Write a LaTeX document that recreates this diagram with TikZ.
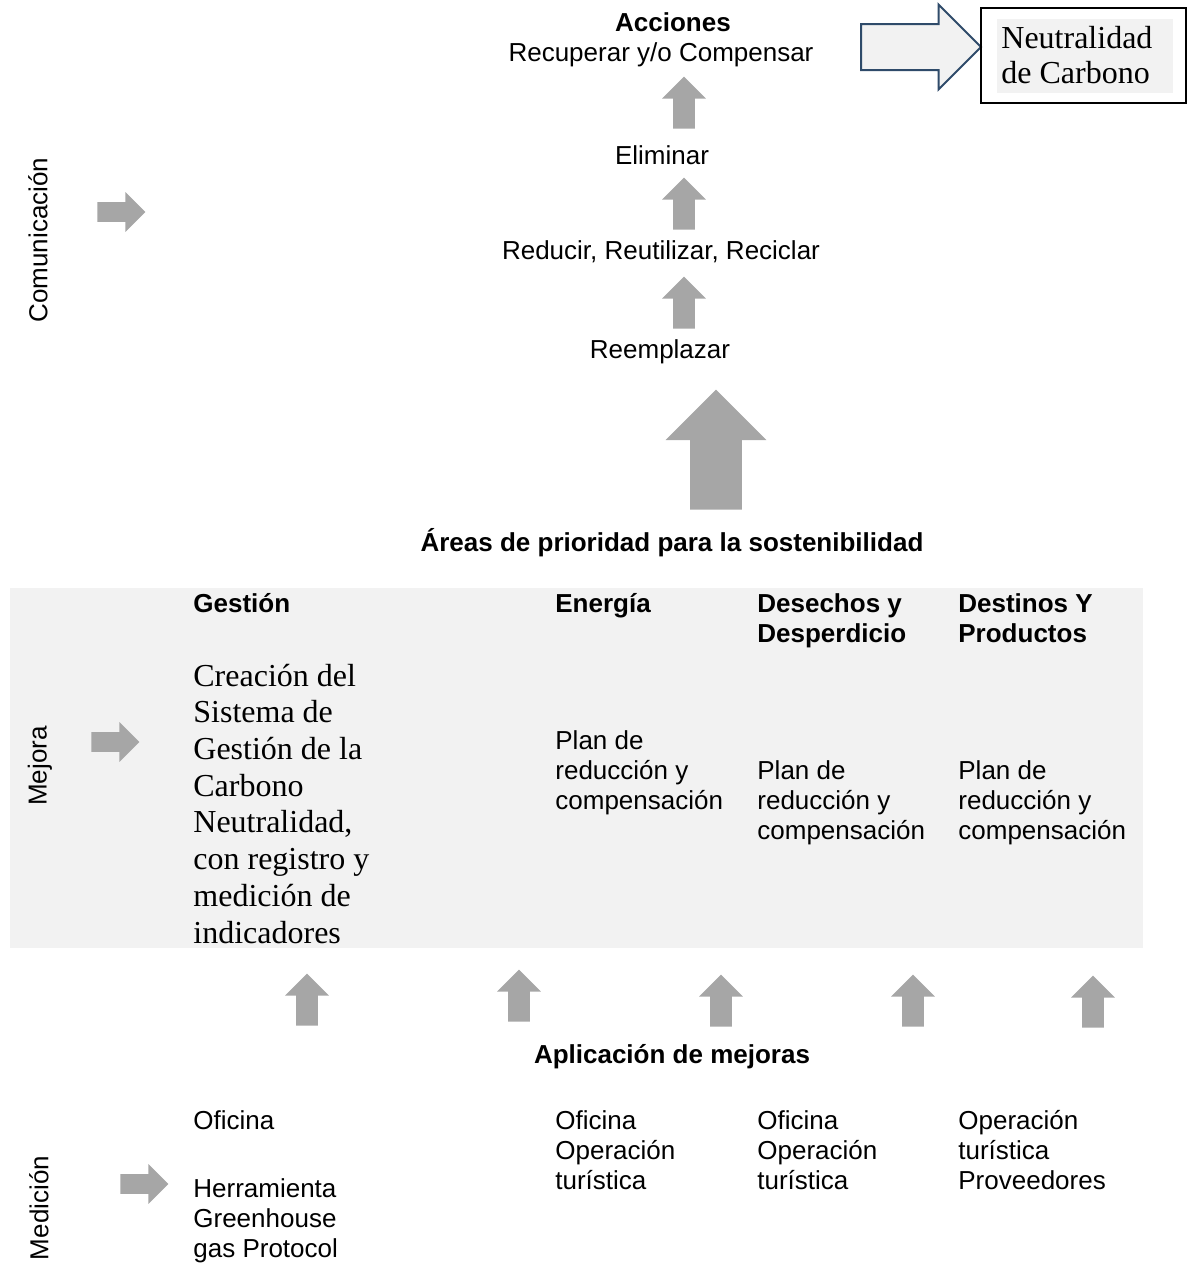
\documentclass[tikz,border=0pt]{standalone}
\usepackage{fontspec}
\setmainfont{Liberation Sans}
\newfontfamily\serifrm{Liberation Serif}
\usetikzlibrary{shapes.arrows}

\definecolor{arrgray}{HTML}{A6A6A6}
\definecolor{panelgray}{HTML}{F2F2F2}
\definecolor{arrblue}{HTML}{2F4B6A}

\begin{document}
\begin{tikzpicture}[x=0.5pt, y=-0.5pt,
                    txt/.style={inner sep=0pt, font=\fontsize{13}{15}\selectfont},
                    titletxt/.style={inner sep=0pt, font=\fontsize{13}{15}\selectfont\bfseries},
                    coltitle/.style={titletxt, align=left, anchor=base west},
                    body/.style={txt, align=left, anchor=base west},
                    roman/.style={inner sep=0pt, align=left, anchor=base west, font=\serifrm\fontsize{16}{18.35}\selectfont},
                    side/.style={txt, rotate=90},
                    uparr/.style={single arrow, fill=arrgray, shape border rotate=90, anchor=tail, inner sep=5.25pt,
                                  single arrow head extend=5.5pt, minimum height=26pt, minimum width=21.5pt},
                    bigarr/.style={single arrow, fill=arrgray, shape border rotate=90, anchor=tail, inner sep=12.75pt,
                                   single arrow head extend=12.25pt, minimum height=60pt, minimum width=50pt},
                    rightarr/.style={single arrow, fill=arrgray, anchor=tail, inner sep=4.75pt,
                                     single arrow head extend=5pt, minimum height=24pt, minimum width=19.5pt},
                    outarr/.style={single arrow, draw=arrblue, line width=1pt, fill=panelgray, anchor=tail, inner sep=11pt,
                                   single arrow head extend=9.75pt, minimum height=60pt, minimum width=41.5pt}]

    \useasboundingbox (0,0) rectangle (1187,1266);

    % panel
    \fill[panelgray] (10,588) rectangle (1143,948);

    % acciones
    \node[titletxt] (acc) at (673,22) {Acciones};
    \node[txt] (recup) at (661,55) {Recuperar y/o Compensar};
    \node[txt] (elim) at (662,155) {Eliminar};
    \node[txt] (reduc) at (661,252) {Reducir, Reutilizar, Reciclar};
    \node[txt] (reemp) at (660,352) {Reemplazar};

    \node[uparr] (up1) at (684,129) {};
    \node[uparr] (up2) at (684,230) {};
    \node[uparr] (up3) at (684,329) {};
    \node[bigarr] (upbig) at (716,510) {};

    % neutralidad (base = last line)
    \node[outarr] (toneutral) at (860,47) {};
    \draw[line width=1pt] (981,8) rectangle (1186,103);
    \fill[panelgray] (997,19) rectangle (1173,93);
    \node[roman, font=\serifrm\fontsize{16}{17.5}\selectfont] (neutral) at (1001,83) {Neutralidad\\de Carbono};

    \node[titletxt] (areas) at (672,543) {Áreas de prioridad para la sostenibilidad};

    % columnas
    \node[coltitle] (gestion) at (193,612) {Gestión};
    \node[coltitle] (energia) at (555,612) {Energía};
    \node[coltitle] (desechos) at (757,642) {Desechos y\\Desperdicio};
    \node[coltitle] (destinos) at (958,642) {Destinos Y\\Productos};

    \node[roman] (sistema) at (193,943) {Creación del\\Sistema de\\Gestión de la\\Carbono\\Neutralidad,\\con registro y\\medición de\\indicadores};
    \node[body] (plan1) at (555,809) {Plan de\\reducción y\\compensación};
    \node[body] (plan2) at (757,839) {Plan de\\reducción y\\compensación};
    \node[body] (plan3) at (958,839) {Plan de\\reducción y\\compensación};

    \node[uparr] (ap1) at (307,1026) {};
    \node[uparr] (ap2) at (519,1022) {};
    \node[uparr] (ap3) at (721,1027) {};
    \node[uparr] (ap4) at (913,1027) {};
    \node[uparr] (ap5) at (1093,1028) {};

    \node[titletxt] (aplic) at (672,1057) {Aplicación de mejoras};

    % medicion
    \node[body] (med1) at (193,1129) {Oficina};
    \node[body] (med1b) at (193,1257) {Herramienta\\Greenhouse\\gas Protocol};
    \node[body] (med2) at (555,1189) {Oficina\\Operación\\turística};
    \node[body] (med3) at (757,1189) {Oficina\\Operación\\turística};
    \node[body] (med4) at (958,1189) {Operación\\turística\\Proveedores};

    % etapas
    \node[side] (comun) at (38,240) {Comunicación};
    \node[side] (mejora) at (40,766) {Mejora};
    \node[side] (medic) at (39,1208) {Medición};

    \node[rightarr] (arcom) at (97,212) {};
    \node[rightarr] (armej) at (91,742) {};
    \node[rightarr] (armed) at (120,1184) {};
\end{tikzpicture}
\end{document}
